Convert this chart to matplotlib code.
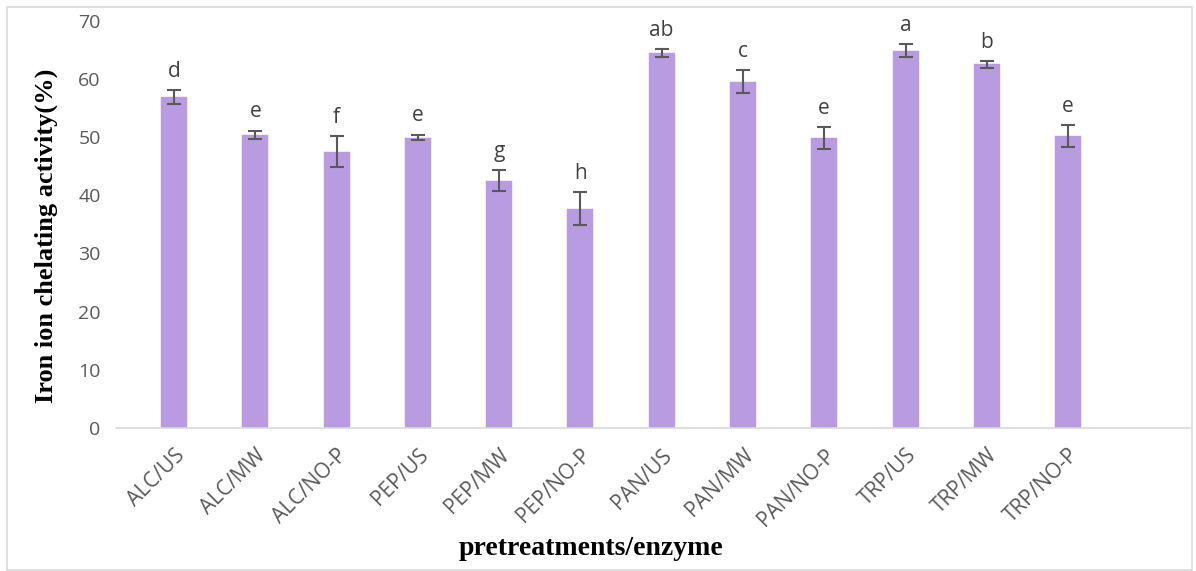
import numpy as np
import matplotlib
matplotlib.use("Agg")
import matplotlib.pyplot as plt
from matplotlib.patches import Rectangle

categories = ["ALC/US", "ALC/MW", "ALC/NO-P", "PEP/US", "PEP/MW", "PEP/NO-P",
              "PAN/US", "PAN/MW", "PAN/NO-P", "TRP/US", "TRP/MW", "TRP/NO-P"]
activity = [56.9, 50.4, 47.5, 49.9, 42.5, 37.7, 64.4, 59.5, 49.8, 64.8, 62.5, 50.2]
errors = [1.2, 0.7, 2.7, 0.5, 1.8, 2.8, 0.7, 2.0, 1.9, 1.1, 0.6, 1.9]
letters = ["d", "e", "f", "e", "g", "h", "ab", "c", "e", "a", "b", "e"]

plt.rcParams["hatch.color"] = "#7c48bf"
plt.rcParams["hatch.linewidth"] = 1.2

fig = plt.figure(figsize=(11.96, 5.71), dpi=100)
ax = fig.add_axes([0.097, 0.2504, 0.898, 0.7136])

x = np.arange(len(categories))
ax.bar(x, activity, width=0.32, color="#f4effb", edgecolor="#b89be0",
       linewidth=0.3, hatch="+" * 14)
ax.errorbar(x, activity, yerr=errors, fmt="none", ecolor="#595959",
            elinewidth=1.5, capsize=5, capthick=1.5)

for xi, v, e, lab in zip(x, activity, errors, letters):
    ax.text(xi, v + e + 1.4, lab, ha="center", va="bottom", fontsize=15,
            color="#404040", family="Open Sans")

ax.set_xlim(-0.713, 12.5)
ax.set_ylim(0, 70)
ax.set_yticks(range(0, 71, 10))
ax.set_xticks(x)
ax.set_xticklabels(categories, rotation=45, ha="right", rotation_mode="anchor",
                   fontsize=15, color="#595959", family="Open Sans")
for lbl in ax.get_yticklabels():
    lbl.set_family("Open Sans")
    lbl.set_fontsize(14)
    lbl.set_color("#595959")
ax.tick_params(axis="both", length=0)
ax.tick_params(axis="y", pad=11)
ax.tick_params(axis="x", pad=12)

for side in ["top", "right", "left"]:
    ax.spines[side].set_visible(False)
ax.spines["bottom"].set_color("#d9d9d9")
ax.spines["bottom"].set_linewidth(1.2)

fig.text(0.039, 0.587, "Iron ion chelating activity(%)", family="Liberation Serif",
         fontweight="bold", fontsize=19, rotation=90, ha="center", va="center")
fig.text(0.494, 0.04, "pretreatments/enzyme", family="Liberation Serif",
         fontweight="bold", fontsize=20, ha="center", va="center")

fig.patches.append(Rectangle((0.006, 0.002), 0.991, 0.985, transform=fig.transFigure,
                             fill=False, edgecolor="#d9d9d9", linewidth=1.2))

fig.savefig("out.png", dpi=100)
